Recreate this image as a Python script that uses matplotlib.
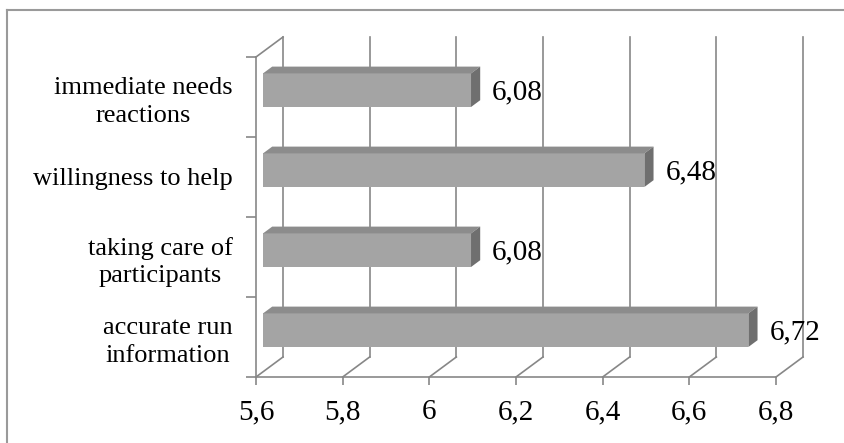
import matplotlib
matplotlib.use("Agg")
import matplotlib.pyplot as plt
from matplotlib.patches import Polygon
from matplotlib.lines import Line2D

# Data
categories = ["accurate run\ninformation", "taking care of\nparticipants",
              "willingness to help", "immediate needs\nreactions"]
values = [6.72, 6.08, 6.48, 6.08]
value_labels = ["6,72", "6,08", "6,48", "6,08"]
x_ticks = [5.6, 5.8, 6.0, 6.2, 6.4, 6.6, 6.8]
x_tick_labels = ["5,6", "5,8", "6", "6,2", "6,4", "6,6", "6,8"]
x_min, x_max = 5.6, 6.8

W, H, DPI = 845, 443, 100
fig = plt.figure(figsize=(W / DPI, H / DPI), dpi=DPI)
fig.patch.set_facecolor("white")

FONT = "Liberation Serif"
FS_NUM = 21
FS_CAT = 19
GRID = "#878787"

# front plane of the 3-D box
left_px, right_px, bottom_px, top_px = 256, 776, 377, 57
ax = fig.add_axes([left_px / W, 1 - bottom_px / H,
                   (right_px - left_px) / W, (bottom_px - top_px) / H])
ax.set_xlim(x_min, x_max)
ax.set_ylim(0, len(categories))
ax.patch.set_alpha(0)
for s in ("top", "right"):
    ax.spines[s].set_visible(False)
for s in ("left", "bottom"):
    ax.spines[s].set_color(GRID)
    ax.spines[s].set_linewidth(1.2)

ax.set_xticks(x_ticks)
ax.set_xticklabels(x_tick_labels, fontname=FONT, fontsize=FS_NUM)
ax.tick_params(axis="x", length=6, width=1.2, color=GRID, pad=10)

ax.set_yticks(range(len(categories) + 1))
ax.set_yticklabels([])
ax.tick_params(axis="y", which="major", length=7, width=1.2, color=GRID)
ax.set_yticks([i + 0.5 for i in range(len(categories))], minor=True)
ax.set_yticklabels(categories, minor=True, fontname=FONT, fontsize=FS_CAT,
                   linespacing=1.3, ha="right", multialignment="center")
ax.tick_params(axis="y", which="minor", length=0, pad=17)

# depth offset of the box, in inches
DX, DY = 0.27, 0.20
BAR_FRONT, BAR_BACK = 0.26, 0.60
BAR_Y0, BAR_Y1 = 0.31, 0.73

tr = fig.dpi_scale_trans


def P(v, c, d):
    """Position (in inches) of value v, category coordinate c, depth d."""
    x, y = ax.transData.transform((v, c))
    return (x / DPI + DX * d, y / DPI + DY * d)


def line(p0, p1, **kw):
    fig.add_artist(Line2D([p0[0], p1[0]], [p0[1], p1[1]], transform=tr,
                          color=GRID, lw=1.2, **kw))


n = len(categories)
# back wall gridlines and floor diagonals
for t in x_ticks:
    line(P(t, 0, 1), P(t, n, 1), zorder=1)
    line(P(t, 0, 0), P(t, 0, 1), zorder=1)
# top edge of left wall
line(P(x_min, n, 0), P(x_min, n, 1), zorder=1)

# bars
for i, (v, lab) in enumerate(zip(values, value_labels)):
    y0, y1 = i + BAR_Y0, i + BAR_Y1
    front = [P(x_min, y0, BAR_FRONT), P(v, y0, BAR_FRONT),
             P(v, y1, BAR_FRONT), P(x_min, y1, BAR_FRONT)]
    top = [P(x_min, y1, BAR_FRONT), P(v, y1, BAR_FRONT),
           P(v, y1, BAR_BACK), P(x_min, y1, BAR_BACK)]
    end = [P(v, y0, BAR_FRONT), P(v, y1, BAR_FRONT),
           P(v, y1, BAR_BACK), P(v, y0, BAR_BACK)]
    for pts, col in ((front, "#a4a4a4"), (top, "#8c8c8c"), (end, "#6f6f6f")):
        fig.add_artist(Polygon(pts, closed=True, transform=tr, facecolor=col,
                               edgecolor="none", zorder=3))
    # label: right of the bar's end, level with the middle of its front face
    lx, _ = P(v, (y0 + y1) / 2, BAR_BACK)
    _, ly = P(v, (y0 + y1) / 2, BAR_FRONT)
    fig.text(lx + 0.12, ly - 0.02, lab, transform=tr, ha="left", va="center",
             fontname=FONT, fontsize=FS_NUM, zorder=4)

# outer chart border
fig.add_artist(Line2D([7 / W, 1], [1 - 10 / H, 1 - 10 / H],
                      transform=fig.transFigure, color="#9a9a9a", lw=1.5))
fig.add_artist(Line2D([7 / W, 7 / W], [1 - 10 / H, 0],
                      transform=fig.transFigure, color="#9a9a9a", lw=1.5))

fig.savefig("out.png", dpi=DPI, facecolor="white")
